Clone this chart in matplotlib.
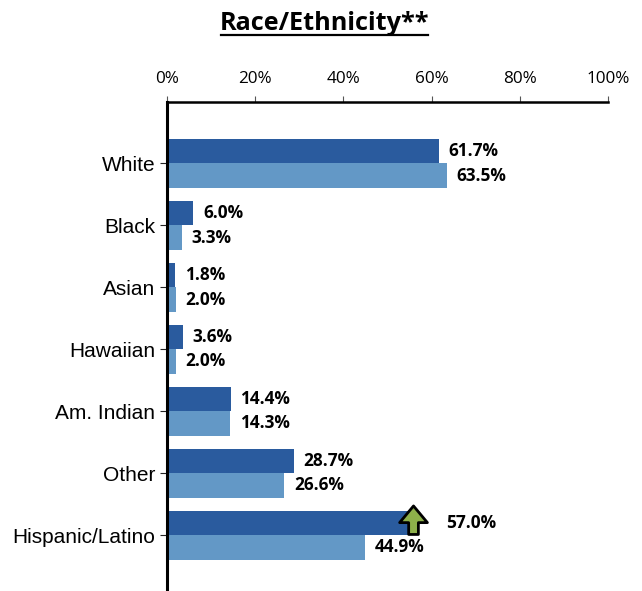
import matplotlib.pyplot as plt
from matplotlib.lines import Line2D

categories = ["White", "Black", "Asian", "Hawaiian", "Am. Indian", "Other", "Hispanic/Latino"]
dark_values = [61.7, 6.0, 1.8, 3.6, 14.4, 28.7, 57.0]
light_values = [63.5, 3.3, 2.0, 2.0, 14.3, 26.6, 44.9]
x_ticks = [0, 20, 40, 60, 80, 100]

DARK = "#2A5B9E"
LIGHT = "#6398C6"
LABEL_FONT = "Open Sans"

W, H = 642, 591
fig = plt.figure(figsize=(W/100, H/100), dpi=100)
ax = fig.add_axes([167/W, 0, 441/W, (H-101.5)/H])

y = list(range(len(categories)))
bar_h = 0.395
ax.barh([i - bar_h/2 for i in y], dark_values, height=bar_h, color=DARK)
ax.barh([i + bar_h/2 for i in y], light_values, height=bar_h, color=LIGHT)

ax.set_xlim(0, 100)
ax.set_ylim(6.903, -1)
ax.xaxis.tick_top()
ax.set_xticks(x_ticks)
ax.set_xticklabels([f"{t}%" for t in x_ticks], family=LABEL_FONT, fontsize=12.3)
ax.set_yticks(y)
ax.set_yticklabels(categories, family="Liberation Sans", fontsize=15, va="center_baseline")
ax.tick_params(axis="x", length=4, width=0.8, color="#555555", pad=6.5)
ax.tick_params(axis="y", length=5, width=0.8, color="#222222", pad=3.5)

for side in ["right", "bottom"]:
    ax.spines[side].set_visible(False)
ax.spines["top"].set_linewidth(1.8)
ax.spines["left"].set_linewidth(2.2)

# value labels, the flagged hispanic one sits further out because of the arrow
for i in y:
    off = 20 if i == 6 else 7
    ax.annotate(f"{dark_values[i]:.1f}%", (dark_values[i], i - bar_h/2), xytext=(off, 0),
                textcoords="offset points", va="center", ha="left",
                family=LABEL_FONT, weight="bold", fontsize=12.4)
    ax.annotate(f"{light_values[i]:.1f}%", (light_values[i], i + bar_h/2), xytext=(7, 0),
                textcoords="offset points", va="center", ha="left",
                family=LABEL_FONT, weight="bold", fontsize=12.4)

ax.annotate("", xy=(55.9, 5.53), xytext=(55.9, 5.99),
            arrowprops=dict(width=7, headwidth=20, headlength=12, shrink=0,
                            facecolor="#8DB04A", edgecolor="black", linewidth=2))

fig.text(324.5/W, 1 - 24/H, "Race/Ethnicity**", ha="center", va="center",
         family=LABEL_FONT, weight="bold", fontsize=18.2)
fig.add_artist(Line2D([221/W, 428/W], [1 - 34.5/H, 1 - 34.5/H], color="black", linewidth=1.6))

fig.savefig("out.png", dpi=100)
